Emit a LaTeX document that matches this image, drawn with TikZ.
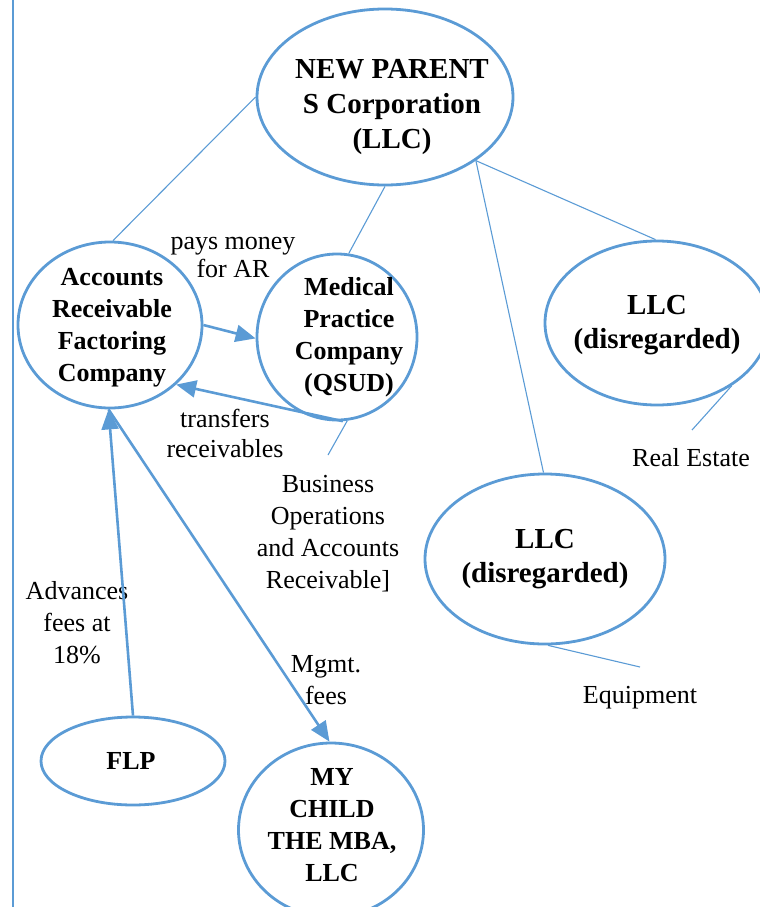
\documentclass[tikz,border=0pt]{standalone}
\usepackage{fontspec}
\setmainfont{Liberation Serif}
\usetikzlibrary{shapes.geometric,arrows.meta}
\definecolor{wordblue}{RGB}{91,155,213}
\begin{document}
\begin{tikzpicture}[x=1bp,y=-1bp,
  entity/.style={draw=wordblue,line width=2.8bp,ellipse,inner sep=0pt},
  tie/.style={draw=wordblue,line width=1.1bp},
  flow/.style={draw=wordblue,line width=2.6bp,-{Triangle[length=20bp,width=17bp]}},
  titlefont/.style={font=\fontsize{29bp}{35bp}\selectfont\bfseries,align=center,inner sep=0pt,anchor=base},
  llcfont/.style={font=\fontsize{29bp}{34bp}\selectfont\bfseries,align=center,inner sep=0pt,anchor=base},
  namefont/.style={font=\fontsize{26bp}{31.7bp}\selectfont\bfseries,align=center,inner sep=0pt,anchor=base},
  notefont/.style={font=\fontsize{26bp}{31.7bp}\selectfont,align=center,inner sep=0pt,anchor=base}]
\useasboundingbox (0,0) rectangle (760,907);

% margin rule on the left
\coordinate (ruletop) at (13,0);
\coordinate (rulebot) at (13,907);
\draw[tie] (ruletop) -- (rulebot);

% entities
\node[entity,minimum width=256bp,minimum height=176bp] (parent) at (385,97) {};
\node[entity,minimum width=184bp,minimum height=166bp] (factor) at (110,325) {};
\node[entity,minimum width=160bp,minimum height=166bp] (medical) at (337,337) {};
\node[entity,minimum width=224bp,minimum height=164bp] (llcre) at (657,323) {};
\node[entity,minimum width=240bp,minimum height=170bp] (llceq) at (545,559) {};
\node[entity,minimum width=184bp,minimum height=88bp] (flp) at (133,761) {};
\node[entity,minimum width=185bp,minimum height=174bp] (child) at (331,830) {};

% entity names (each placed by the baseline of its last line)
\node[titlefont] (parentname) at (392,148) {NEW PARENT\\S Corporation\\(LLC)};
\node[namefont] (factorname) at (112,381) {Accounts\\Receivable\\Factoring\\Company};
\node[namefont] (medicalname) at (349,391) {Medical\\Practice\\Company\\(QSUD)};
\node[llcfont] (llcrename) at (657,348) {LLC\\(disregarded)};
\node[llcfont] (llceqname) at (545,582) {LLC\\(disregarded)};
\node[namefont] (flpname) at (131,769) {FLP};
\node[namefont] (childname) at (332,881) {MY\\CHILD\\THE MBA,\\LLC};

% notes
\node[notefont,font=\fontsize{26bp}{28bp}\selectfont] (paysnote) at (233,277) {pays money\\for AR};
\node[notefont,font=\fontsize{26bp}{30bp}\selectfont] (transfernote) at (225,457) {transfers\\receivables};
\node[notefont] (businessnote) at (328,588) {Business\\Operations\\and Accounts\\Receivable]};
\node[notefont] (advancenote) at (77,663) {Advances\\fees at\\18\%};
\node[notefont] (mgmtnote) at (326,704) {Mgmt.\\fees};
\node[notefont] (realestate) at (691,466) {Real Estate};
\node[notefont] (equipment) at (640,703) {Equipment};

% ownership ties
\draw[tie] (parent.180) -- (factor.88);
\draw[tie] (parent.270) -- (medical.82);
\draw[tie] (parent.325) -- (llcre.91);
\draw[tie] (parent.325) -- (llceq.91);

% asset ties
\coordinate (businessend) at (328,455);
\coordinate (realestateend) at (692,430);
\coordinate (equipmentend) at (640,667);
\draw[tie] (medical.277) -- (businessend);
\draw[tie] (llcre.320) -- (realestateend);
\draw[tie] (llceq.272) -- (equipmentend);

% money and receivable flows
\draw[flow] (factor.0) -- (medical.181);
\draw[flow] (medical.274) -- (factor.318);
\draw[flow] (flp.90) -- (factor.269);
\draw[flow] (factor.269) -- (child.91);
\end{tikzpicture}
\end{document}
